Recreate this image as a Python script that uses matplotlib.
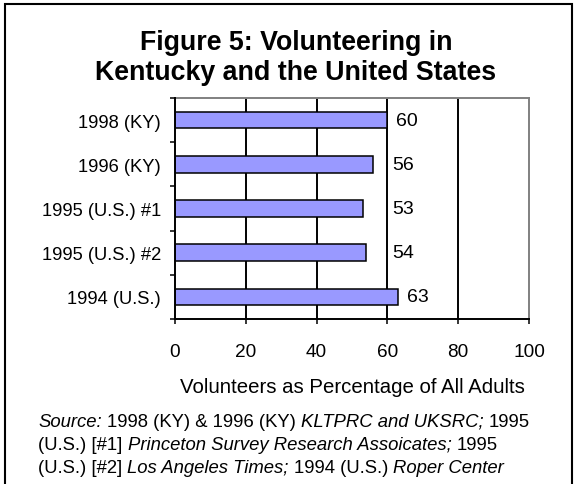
import matplotlib
matplotlib.use("Agg")
import matplotlib.pyplot as plt
from matplotlib.patches import Rectangle
from matplotlib.text import Annotation
import numpy as np

# ---- data ----
categories = ["1998 (KY)", "1996 (KY)", "1995 (U.S.) #1", "1995 (U.S.) #2", "1994 (U.S.)"]
values = [60, 56, 53, 54, 63]
xticks = [0, 20, 40, 60, 80, 100]
title_lines = ["Figure 5: Volunteering in", "Kentucky and the United States"]
xlabel = "Volunteers as Percentage of All Adults"
# (text, italic, preceded by a space)
source_lines = [
    [("Source:", True, False), ("1998 (KY) & 1996 (KY)", False, True), ("KLTPRC and UKSRC;", True, True), ("1995", False, True)],
    [("(U.S.) [#1]", False, False), ("Princeton Survey Research Assoicates;", True, True), ("1995", False, True)],
    [("(U.S.) [#2]", False, False), ("Los Angeles Times;", True, True), ("1994 (U.S.)", False, True), ("Roper Center", True, True)],
]

plt.rcParams['font.family'] = ['Liberation Sans', 'DejaVu Sans']

W, H = 575, 485
fig = plt.figure(figsize=(W / 100, H / 100), dpi=100)
fig.patch.set_facecolor("white")

def fx(px):
    return px / W

def fy(py):
    return 1 - py / H

# outer border
fig.patches.append(Rectangle((fx(5), -0.1), fx(572) - fx(5), fy(5) + 0.1,
                             transform=fig.transFigure, fill=False,
                             edgecolor="black", lw=1.5))

ax = fig.add_axes([fx(175), fy(320), fx(529) - fx(175), fy(99) - fy(320)])
y = np.arange(len(categories))
ax.barh(y, values, height=0.38, color="#9999FF", edgecolor="black", linewidth=1.1, zorder=3)

ax.set_xlim(0, 100)
ax.set_ylim(len(categories) - 0.5, -0.5)
ax.set_xticks(xticks)
ax.set_xticklabels([str(t) for t in xticks], fontsize=13.7)
ax.tick_params(axis="x", direction="out", length=3.6, width=1.1, pad=14, color="black")

ax.set_yticks(y)
ax.set_yticklabels(categories, fontsize=13.2)
ax.set_yticks(np.arange(len(categories) + 1) - 0.5, minor=True)
ax.tick_params(axis="y", which="major", length=0, pad=10)
ax.tick_params(axis="y", which="minor", direction="out", length=3.6, width=1.1, color="black")

for t in xticks[1:-1]:
    ax.axvline(t, color="black", lw=1.4, zorder=1)

for s in ["left", "bottom"]:
    ax.spines[s].set_color("black")
    ax.spines[s].set_linewidth(1.4)
    ax.spines[s].set_zorder(4)
for s in ["top", "right"]:
    ax.spines[s].set_color("#808080")
    ax.spines[s].set_linewidth(1.4)

# value labels
for yi, v in zip(y, values):
    ax.text(max(v, 59) + 2.5, yi, str(v), ha="left", va="center", fontsize=14, zorder=5)

# title
for i, line in enumerate(title_lines):
    fig.text(fx(296), fy(50 + 30 * i), line, ha="center", va="baseline",
             fontsize=19.3, fontweight="bold")

# x label
fig.text(fx(352), fy(393), xlabel, ha="center", va="baseline", fontsize=14.7)

# source note with mixed styles
src_size = 13.3
space_pt = 0.278 * src_size
for li, segs in enumerate(source_lines):
    base_y = fy(427 + 23 * li)
    prev = None
    for text, ital, space in segs:
        style = "italic" if ital else "normal"
        if prev is None:
            prev = fig.text(fx(38), base_y, text, ha="left", va="baseline",
                            fontsize=src_size, fontstyle=style)
        else:
            prev = fig.add_artist(Annotation(
                text, xy=(1, 0), xycoords=prev,
                xytext=(space_pt if space else 0, 0), textcoords="offset points",
                ha="left", va="bottom", fontsize=src_size, fontstyle=style))

fig.savefig("out.png", dpi=100)
